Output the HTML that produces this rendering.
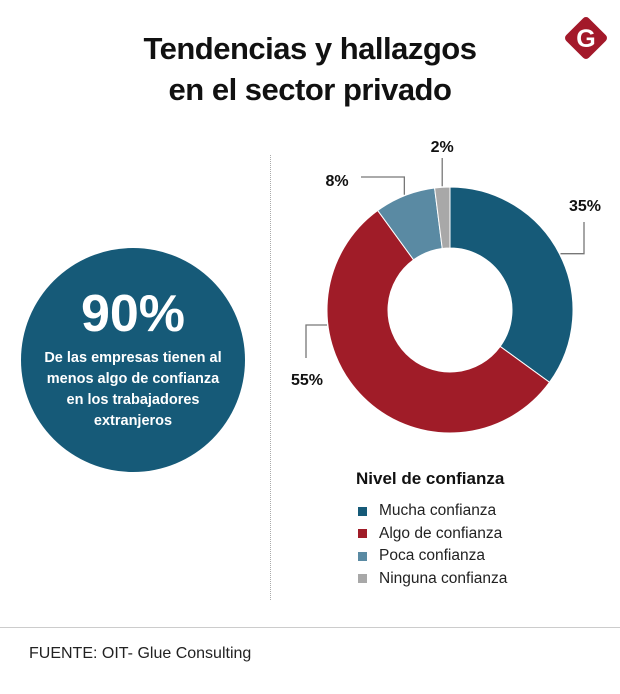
<!DOCTYPE html>
<html><head><meta charset="utf-8"><style>
body{margin:0;width:620px;height:694px;background:#fff;font-family:"Liberation Sans",sans-serif;overflow:hidden;position:relative}
.t{position:absolute}
</style></head><body>
<div class="t" style="left:0;width:620px;top:28px;text-align:center;font-weight:bold;font-size:31px;line-height:41px;color:#111;letter-spacing:-0.5px">Tendencias y hallazgos<br>en el sector privado</div>
<svg class="t" style="left:560px;top:12px" width="52" height="52" viewBox="0 0 52 52"><rect x="10" y="10" width="32" height="32" rx="4" transform="rotate(45 26 26)" fill="#a3192a"/><text x="26" y="35" text-anchor="middle" font-family="Liberation Sans" font-weight="bold" font-size="25" fill="#fff">G</text></svg>
<div class="t" style="left:270px;top:155px;height:445px;border-left:1px dotted #aaa"></div>
<div class="t" style="left:21px;top:248px;width:224px;height:224px;border-radius:50%;background:#165a78;color:#fff;text-align:center">
<div style="font-weight:bold;font-size:52px;margin-top:38px;line-height:56px">90%</div>
<div style="font-weight:bold;font-size:14.5px;line-height:21px;margin-top:6px">De las empresas tienen al<br>menos algo de confianza<br>en los trabajadores<br>extranjeros</div></div>
<svg id="c" class="t" style="left:0;top:0" width="620" height="694"></svg>
<div class="t" style="left:356px;top:469px;font-weight:bold;font-size:17px;color:#111">Nivel de confianza</div>
<div id="leg" class="t" style="left:358px;top:500px;font-size:15.5px;color:#222"></div>
<div class="t" style="left:0;top:627px;width:620px;border-top:1px solid #ccc"></div>
<div class="t" style="left:29px;top:645px;font-size:16px;color:#222">FUENTE: OIT- Glue Consulting</div>
<script>
const categories=["Mucha confianza","Algo de confianza","Poca confianza","Ninguna confianza"];
const values=[35,55,8,2];
const labels=["35%","55%","8%","2%"];
const colors=["#165a78","#a01c28","#5a8aa3","#a8a8a8"];
const svg=document.getElementById('c'),NS="http://www.w3.org/2000/svg";
const cx=450,cy=310,R=123,r=62;
const total=values.reduce((a,b)=>a+b,0);
function pt(a,rad){return [cx+rad*Math.sin(a),cy-rad*Math.cos(a)];}
let a0=0;
values.forEach((v,i)=>{
 const a1=a0+v/total*2*Math.PI,lg=(a1-a0)>Math.PI?1:0;
 const p1=pt(a0,R),p2=pt(a1,R),p3=pt(a1,r),p4=pt(a0,r);
 const p=document.createElementNS(NS,'path');
 p.setAttribute('d',`M${p1}A${R},${R} 0 ${lg} 1 ${p2}L${p3}A${r},${r} 0 ${lg} 0 ${p4}Z`);
 p.setAttribute('fill',colors[i]);p.setAttribute('stroke','#fff');p.setAttribute('stroke-width','1');
 
 
 svg.appendChild(p);
 const mid=(a0+a1)/2,e=pt(mid,R+1);
 let d,lx,ly;
 if(i===0){d=`M${e}H584V222`;lx=585;ly=211;}
 else if(i===1){d=`M327,325H306V358`;lx=307;ly=385;}
 else if(i===2){d=`M${e[0]},${e[1]}V177H361`;lx=337;ly=186;}
 else {d=`M${e[0]},${e[1]}V158`;lx=e[0];ly=152;}
 const l=document.createElementNS(NS,'path');
 l.setAttribute('d',d);l.setAttribute('fill','none');l.setAttribute('stroke','#777');l.setAttribute('stroke-width','1.3');
 
 
 svg.appendChild(l);
 const t=document.createElementNS(NS,'text');
 t.setAttribute('x',lx);t.setAttribute('y',ly);t.setAttribute('text-anchor','middle');
 t.setAttribute('font-family','Liberation Sans');t.setAttribute('font-weight','bold');t.setAttribute('font-size','16');t.setAttribute('fill','#111');
 t.textContent=labels[i];
 
 
 svg.appendChild(t);
 a0=a1;
});
const leg=document.getElementById('leg');
categories.forEach((c,i)=>{
 const d=document.createElement('div');
 d.style.cssText='height:22.5px;display:flex;align-items:center';
 d.innerHTML=`<span style="width:9px;height:9px;background:${colors[i]};margin-right:12px;display:inline-block"></span>${c}`;
 
 
 leg.appendChild(d);
});
</script>
</body></html>
